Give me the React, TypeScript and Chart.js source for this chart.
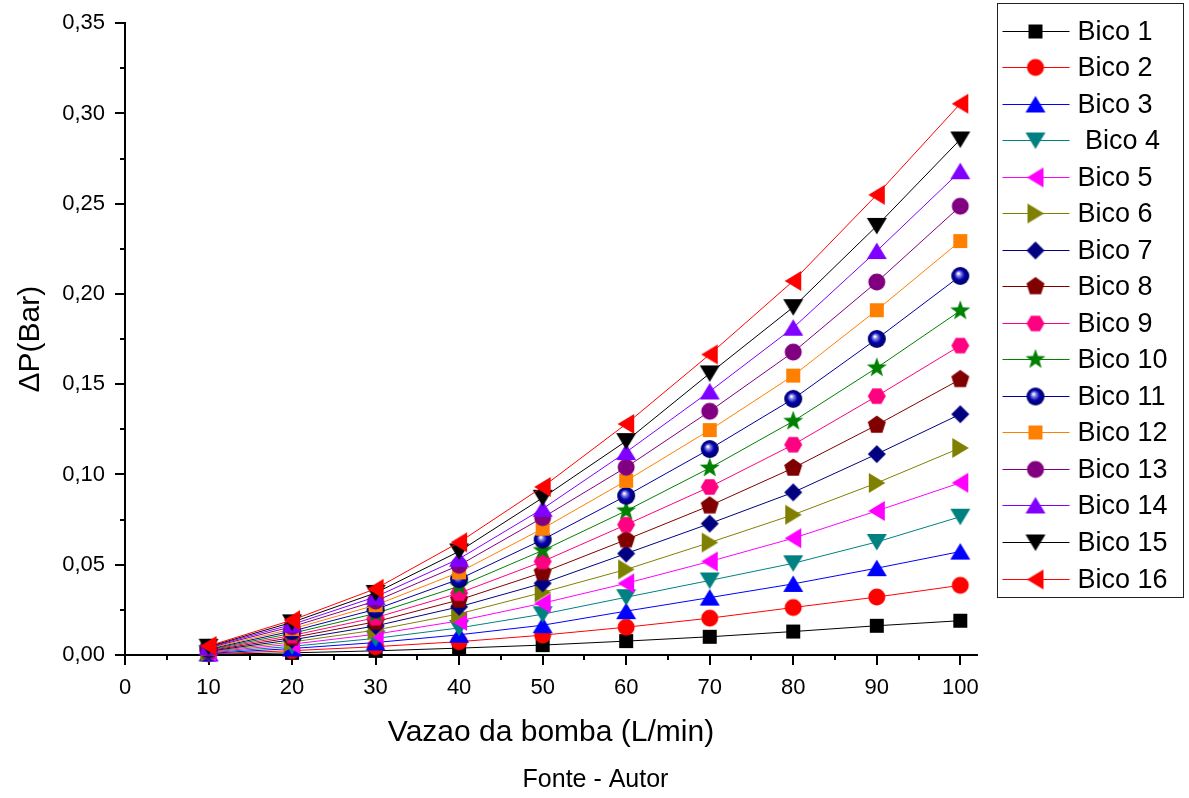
import React, { useEffect, useRef } from 'react';
import { Chart, registerables } from 'chart.js';

Chart.register(...registerables);

const FONT = "'Liberation Sans', Arial, sans-serif";

// Flow rate (L/min) – x values
const flowRates = [10, 20, 30, 40, 50, 60, 70, 80, 90, 100];

const seriesLabels = [
  'Bico 1', 'Bico 2', 'Bico 3', ' Bico 4', 'Bico 5', 'Bico 6', 'Bico 7', 'Bico 8',
  'Bico 9', 'Bico 10', 'Bico 11', 'Bico 12', 'Bico 13', 'Bico 14', 'Bico 15', 'Bico 16',
];

const seriesColors = [
  '#000000', '#FF0000', '#0000FF', '#008080', '#FF00FF', '#808000', '#000080', '#800000',
  '#FF0080', '#008000', '#0000A0', '#FF8000', '#800080', '#8000FF', '#000000', '#FF0000',
];

const seriesMarkers = [
  'square', 'circle', 'triangleUp', 'triangleDown', 'triangleLeft', 'triangleRight', 'diamond', 'pentagon',
  'hexagon', 'star', 'sphere', 'square', 'circle', 'triangleUp', 'triangleDown', 'triangleLeft',
];

// ΔP (Bar) values
const bico1 = [0.0003, 0.0012, 0.0023, 0.0038, 0.0055, 0.0077, 0.0101, 0.0130, 0.0162, 0.0190];
const bico2 = [0.0006, 0.0024, 0.0046, 0.0074, 0.0110, 0.0154, 0.0204, 0.0263, 0.0321, 0.0386];
const bico3 = [0.0009, 0.0036, 0.0069, 0.0112, 0.0165, 0.0243, 0.0318, 0.0394, 0.0481, 0.0573];
const bico4 = [0.0012, 0.0048, 0.0092, 0.0150, 0.0226, 0.0320, 0.0413, 0.0508, 0.0626, 0.0766];
const bico5 = [0.0015, 0.0060, 0.0115, 0.0189, 0.0287, 0.0397, 0.0518, 0.0647, 0.0798, 0.0954];
const bico6 = [0.0018, 0.0072, 0.0138, 0.0228, 0.0347, 0.0474, 0.0623, 0.0777, 0.0953, 0.1147];
const bico7 = [0.0021, 0.0084, 0.0161, 0.0267, 0.0397, 0.0562, 0.0728, 0.0901, 0.1113, 0.1334];
const bico8 = [0.0024, 0.0096, 0.0184, 0.0305, 0.0457, 0.0639, 0.0827, 0.1036, 0.1274, 0.1527];
const bico9 = [0.0027, 0.0108, 0.0207, 0.0343, 0.0518, 0.0722, 0.0931, 0.1165, 0.1434, 0.1714];
const bico10 = [0.0030, 0.0120, 0.0230, 0.0381, 0.0579, 0.0799, 0.1036, 0.1295, 0.1591, 0.1907];
const bico11 = [0.0033, 0.0132, 0.0253, 0.0420, 0.0639, 0.0882, 0.1141, 0.1419, 0.1751, 0.2100];
const bico12 = [0.0036, 0.0144, 0.0276, 0.0458, 0.0700, 0.0965, 0.1246, 0.1548, 0.1910, 0.2293];
const bico13 = [0.0040, 0.0157, 0.0299, 0.0497, 0.0761, 0.1040, 0.1350, 0.1678, 0.2066, 0.2486];
const bico14 = [0.0043, 0.0169, 0.0322, 0.0533, 0.0810, 0.1124, 0.1460, 0.1813, 0.2238, 0.2680];
const bico15 = [0.0046, 0.0181, 0.0344, 0.0574, 0.0871, 0.1185, 0.1560, 0.1927, 0.2377, 0.2856];
const bico16 = [0.0050, 0.0193, 0.0367, 0.0624, 0.0931, 0.1280, 0.1665, 0.2072, 0.2549, 0.3054];

const seriesValues = [
  bico1, bico2, bico3, bico4, bico5, bico6, bico7, bico8,
  bico9, bico10, bico11, bico12, bico13, bico14, bico15, bico16,
];

const X_MIN = 0;
const X_MAX = 102;
const X_STEP = 10;
const Y_MIN = 0;
const Y_MAX = 0.35;
const Y_STEP = 0.05;

const SOURCE_NOTE = 'Fonte - Autor';

function makeMarker(kind: string, color: string): HTMLCanvasElement {
  const S = 26;
  const c = document.createElement('canvas');
  c.width = S;
  c.height = S;
  const g = c.getContext('2d') as CanvasRenderingContext2D;
  const cx = S / 2;
  const cy = S / 2;
  g.fillStyle = color;
  g.beginPath();
  const poly = (pts: number[][]) => {
    g.moveTo(cx + pts[0][0], cy + pts[0][1]);
    for (let i = 1; i < pts.length; i++) g.lineTo(cx + pts[i][0], cy + pts[i][1]);
    g.closePath();
  };
  const regular = (n: number, r: number, startDeg: number) => {
    const pts: number[][] = [];
    for (let k = 0; k < n; k++) {
      const a = ((startDeg + (360 / n) * k) * Math.PI) / 180;
      pts.push([Math.cos(a) * r, Math.sin(a) * r]);
    }
    poly(pts);
  };
  switch (kind) {
    case 'square':
      g.rect(cx - 7, cy - 7, 14, 14);
      break;
    case 'circle':
      g.arc(cx, cy, 8.5, 0, Math.PI * 2);
      break;
    case 'triangleUp':
      poly([[0, -8.5], [10, 8], [-10, 8]]);
      break;
    case 'triangleDown':
      poly([[0, 8.5], [10, -8], [-10, -8]]);
      break;
    case 'triangleLeft':
      poly([[-8.5, 0], [8, -10], [8, 10]]);
      break;
    case 'triangleRight':
      poly([[8.5, 0], [-8, -10], [-8, 10]]);
      break;
    case 'diamond':
      poly([[0, -9], [9, 0], [0, 9], [-9, 0]]);
      break;
    case 'pentagon':
      regular(5, 9.5, -90);
      break;
    case 'hexagon':
      regular(6, 9, 0);
      break;
    case 'star': {
      const pts: number[][] = [];
      for (let k = 0; k < 10; k++) {
        const r = k % 2 === 0 ? 10.5 : 4.3;
        const a = ((-90 + 36 * k) * Math.PI) / 180;
        pts.push([Math.cos(a) * r, Math.sin(a) * r]);
      }
      poly(pts);
      break;
    }
    case 'sphere': {
      const grd = g.createRadialGradient(cx - 2, cy - 2.5, 0.5, cx, cy, 9);
      grd.addColorStop(0, '#ffffff');
      grd.addColorStop(0.22, '#8080e0');
      grd.addColorStop(0.55, '#0000b0');
      grd.addColorStop(1, '#00005a');
      g.fillStyle = grd;
      g.arc(cx, cy, 9, 0, Math.PI * 2);
      break;
    }
    default:
      g.arc(cx, cy, 8, 0, Math.PI * 2);
  }
  g.fill();
  return c;
}

const minorTicksPlugin = {
  id: 'minorTicks',
  afterDraw(chart: any) {
    const { ctx, chartArea } = chart;
    const xs = chart.scales.x;
    const ys = chart.scales.y;
    ctx.save();
    ctx.strokeStyle = '#000';
    ctx.lineWidth = 2;
    ctx.beginPath();
    for (let v = X_MIN + X_STEP / 2; v < X_MAX; v += X_STEP) {
      const px = Math.round(xs.getPixelForValue(v));
      ctx.moveTo(px, chartArea.bottom);
      ctx.lineTo(px, chartArea.bottom + 5);
    }
    for (let i = 0; i < Math.round((Y_MAX - Y_MIN) / Y_STEP); i++) {
      const v = Y_MIN + Y_STEP * i + Y_STEP / 2;
      const py = Math.round(ys.getPixelForValue(v));
      ctx.moveTo(chartArea.left - 5, py);
      ctx.lineTo(chartArea.left, py);
    }
    ctx.stroke();
    // source note under the chart, centred on the canvas
    ctx.fillStyle = '#000';
    ctx.font = `25px ${FONT}`;
    ctx.textAlign = 'center';
    ctx.textBaseline = 'middle';
    ctx.fillText(SOURCE_NOTE, chart.width / 2 + 1, 780);
    ctx.restore();
  },
};

const boxLegendPlugin = {
  id: 'boxLegend',
  afterDraw(chart: any) {
    const ctx = chart.ctx as CanvasRenderingContext2D;
    const bx = chart.chartArea.right + 20.5;
    const by = 3.5;
    const bw = 186;
    const bh = 594;
    ctx.save();
    ctx.fillStyle = '#fff';
    ctx.fillRect(bx, by, bw, bh);
    ctx.strokeStyle = '#222';
    ctx.lineWidth = 1;
    ctx.strokeRect(bx, by, bw, bh);
    const n = chart.data.datasets.length;
    const first = by + 27;
    const step = (bh - 27 - 19) / (n - 1);
    ctx.font = `27px ${FONT}`;
    ctx.textBaseline = 'middle';
    ctx.textAlign = 'left';
    chart.data.datasets.forEach((ds: any, i: number) => {
      const cy = Math.round(first + step * i) + 0.5;
      ctx.strokeStyle = ds.borderColor;
      ctx.lineWidth = 1;
      ctx.beginPath();
      ctx.moveTo(bx + 5, cy);
      ctx.lineTo(bx + 72, cy);
      ctx.stroke();
      const img = ds.pointStyle as HTMLCanvasElement;
      ctx.drawImage(img, bx + 38 - img.width / 2, cy - img.height / 2);
      ctx.fillStyle = '#000';
      ctx.fillText(ds.label, bx + 80, cy + 1);
    });
    ctx.restore();
  },
};

export default function App() {
  const canvasRef = useRef<HTMLCanvasElement | null>(null);

  useEffect(() => {
    if (!canvasRef.current) return;
    const datasets = seriesLabels.map((label, i) => ({
      label,
      data: flowRates.map((x, j) => ({ x, y: seriesValues[i][j] })),
      borderColor: seriesColors[i],
      backgroundColor: seriesColors[i],
      borderWidth: 1,
      pointStyle: makeMarker(seriesMarkers[i], seriesColors[i]),
      pointRadius: 9,
      pointHoverRadius: 9,
      tension: 0,
      clip: false as any,
      order: seriesLabels.length - i,
    }));

    const chart = new Chart(canvasRef.current, {
      type: 'line',
      data: { datasets },
      plugins: [minorTicksPlugin, boxLegendPlugin],
      options: {
        animation: false,
        responsive: false,
        maintainAspectRatio: false,
        devicePixelRatio: 1,
        layout: { padding: { left: 0, right: 212, top: 20, bottom: 31 } },
        plugins: {
          legend: { display: false },
          tooltip: { enabled: false },
          title: { display: false },
        },
        scales: {
          x: {
            type: 'linear',
            min: X_MIN,
            max: X_MAX,
            afterFit: (s: any) => {
              s.height = 112;
            },
            ticks: {
              stepSize: X_STEP,
              includeBounds: false,
              color: '#000',
              font: { family: FONT, size: 22 },
              padding: 10,
              maxRotation: 0,
              callback: (v: any) => String(v),
            },
            grid: {
              display: true,
              drawOnChartArea: false,
              drawTicks: true,
              tickLength: 10,
              tickWidth: 2,
              tickColor: '#000',
              lineWidth: 2,
              color: '#000',
            },
            border: { display: true, color: '#000', width: 2 },
            title: {
              display: true,
              text: 'Vazao da bomba (L/min)',
              color: '#000',
              font: { family: FONT, size: 30 },
              padding: { top: 4, bottom: 16 },
            },
          },
          y: {
            type: 'linear',
            min: Y_MIN,
            max: Y_MAX,
            afterFit: (s: any) => {
              s.width = 125;
            },
            ticks: {
              stepSize: Y_STEP,
              color: '#000',
              font: { family: FONT, size: 22 },
              padding: 10,
              callback: (v: any) => Number(v).toFixed(2).replace('.', ','),
            },
            grid: {
              display: true,
              drawOnChartArea: false,
              drawTicks: true,
              tickLength: 10,
              tickWidth: 2,
              tickColor: '#000',
              lineWidth: 2,
              color: '#000',
            },
            border: { display: true, color: '#000', width: 2 },
            title: {
              display: true,
              text: 'ΔP(Bar)',
              color: '#000',
              font: { family: FONT, size: 30 },
              padding: { top: 13, bottom: 4 },
            },
          },
        },
      } as any,
    });

    return () => chart.destroy();
  }, []);

  return (
    <div style={{ position: 'absolute', left: 0, top: 0, width: 1189, height: 798, background: '#fff' }}>
      <canvas ref={canvasRef} width={1189} height={798} style={{ display: 'block', width: 1189, height: 798 }} />
    </div>
  );
}
